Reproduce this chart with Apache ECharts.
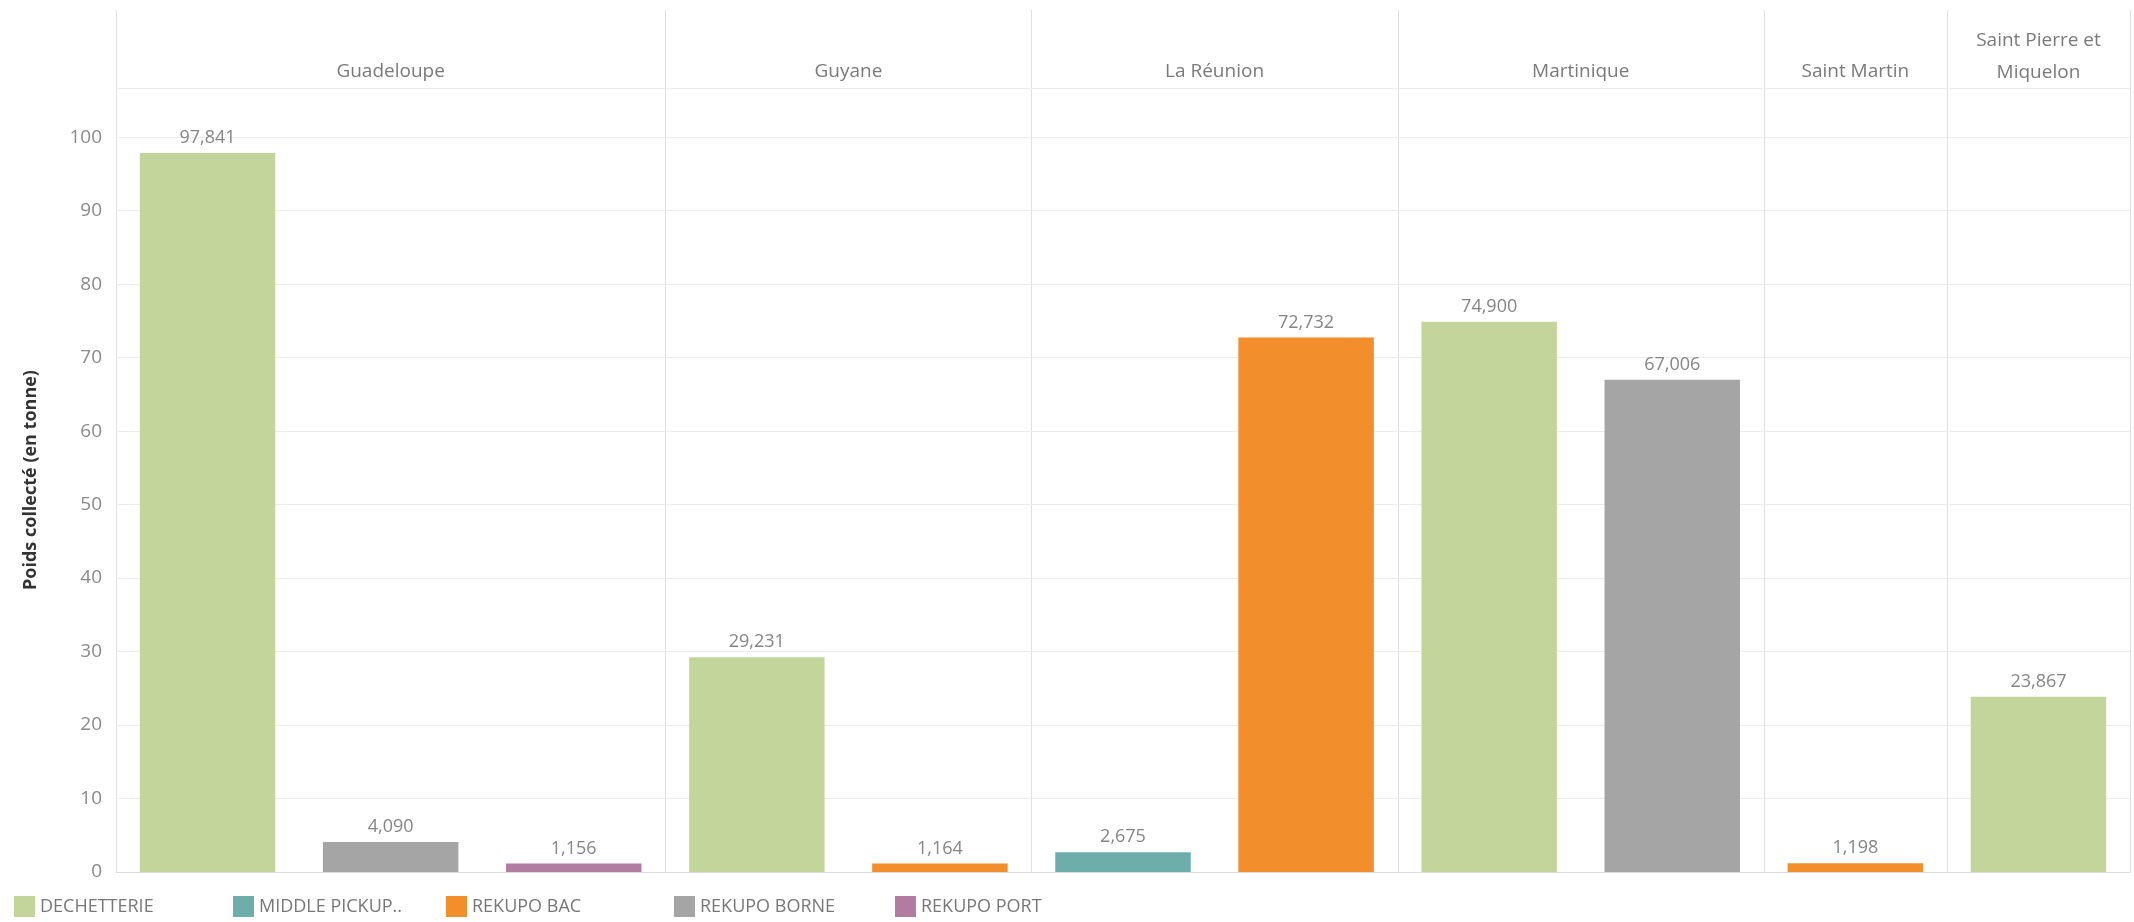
<!DOCTYPE html>
<html>
<head>
<meta charset="utf-8">
<script src="https://cdn.jsdelivr.net/npm/echarts@6/dist/echarts.min.js"></script>
<style>
html,body{margin:0;padding:0;background:#fff;}
#chart{width:2134px;height:922px;}
</style>
</head>
<body>
<div id="chart"></div>
<script>
// ---- data ----
const regions = ['Guadeloupe', 'Guyane', 'La Réunion', 'Martinique', 'Saint Martin', 'Saint Pierre et\nMiquelon'];
const types = ['DECHETTERIE', 'MIDDLE PICKUP..', 'REKUPO BAC', 'REKUPO BORNE', 'REKUPO PORT'];
const dechetterie  = [97.841, 29.231, null,   74.900, null,  23.867];
const middlePickup = [null,   null,   2.675,  null,   null,  null];
const rekupoBac    = [null,   1.164,  72.732, null,   1.198, null];
const rekupoBorne  = [4.090,  null,   null,   67.006, null,  null];
const rekupoPort   = [1.156,  null,   null,   null,   null,  null];
const yTicks = [0, 10, 20, 30, 40, 50, 60, 70, 80, 90, 100];

const typeValues = [dechetterie, middlePickup, rekupoBac, rekupoBorne, rekupoPort];
const colors = ['#c4d59b', '#6daeab', '#f28e2b', '#a5a5a5', '#b17ba2'];

// ---- layout ----
const W = 2134, H = 922;
const plotLeft = 116, plotRight = 2130, plotTop = 88, plotBottom = 872, headTop = 10;
const legendLefts = [14, 233, 446, 674, 895];
const cats = regions.map((r, i) => types.filter((t, k) => typeValues[k][i] != null));
const totalSlots = cats.reduce((s, c) => s + c.length, 0);
const slotW = (plotRight - plotLeft) / totalSlots;
const edges = [plotLeft];
cats.forEach(c => edges.push(edges[edges.length - 1] + c.length * slotW));

const FONT = 'Open Sans, Lato, sans-serif';
const fmt = v => Number(v).toFixed(3).replace('.', ',');

const grids = [], xAxes = [], yAxes = [], series = [], graphics = [];
regions.forEach((r, i) => {
  grids.push({left: edges[i], width: edges[i + 1] - edges[i], top: plotTop, bottom: H - plotBottom, containLabel: false});
  xAxes.push({
    type: 'category', gridIndex: i, data: cats[i],
    axisLine: {show: true, lineStyle: {color: '#dcdcdc', width: 1}},
    axisTick: {show: false}, axisLabel: {show: false}, splitLine: {show: false}
  });
  yAxes.push({
    type: 'value', gridIndex: i, min: 0, max: 106.7, interval: 10,
    name: i === 0 ? 'Poids collecté (en tonne)' : '',
    nameLocation: 'middle', nameGap: 76,
    nameTextStyle: {color: '#333', fontSize: 18, fontWeight: 'bold', fontFamily: FONT},
    axisLine: {show: false}, axisTick: {show: false},
    axisLabel: {show: i === 0, color: '#8a8a8a', fontSize: 19, fontFamily: FONT, margin: 14, showMaxLabel: false,
      formatter: v => yTicks.includes(v) ? String(v) : ''},
    splitLine: {show: true, lineStyle: {color: '#ececec', width: 1}}
  });
  types.forEach((t, k) => {
    if (typeValues[k][i] == null) return;
    series.push({
      type: 'bar', name: t, xAxisIndex: i, yAxisIndex: i, stack: 'p' + i,
      barCategoryGap: '26%',
      itemStyle: {color: colors[k]},
      data: cats[i].map(c => c === t ? typeValues[k][i] : '-'),
      label: {show: true, position: 'top', distance: 6, color: '#858585', fontSize: 18, fontFamily: FONT,
        formatter: p => fmt(p.value)},
      emphasis: {disabled: true}
    });
  });
  // header text
  graphics.push({
    type: 'text', x: (edges[i] + edges[i + 1]) / 2, y: r.includes('\n') ? 57 : 72,
    style: {text: r, fill: '#7a7a7a', font: '19px ' + FONT, textAlign: 'center', textVerticalAlign: 'middle', lineHeight: 32},
    silent: true
  });
});
// panel separators
edges.forEach(x => {
  graphics.push({type: 'line', shape: {x1: Math.round(x) + 0.5, y1: headTop, x2: Math.round(x) + 0.5, y2: plotBottom},
    style: {stroke: '#e0e0e0', lineWidth: 1}, silent: true, z: -1});
});
graphics.push({type: 'line', shape: {x1: plotLeft, y1: plotTop + 0.5, x2: plotRight, y2: plotTop + 0.5},
  style: {stroke: '#ececec', lineWidth: 1}, silent: true, z: -1});

const legends = types.map((t, k) => ({
  data: [t], left: legendLefts[k], top: 896, icon: 'rect', itemWidth: 21, itemHeight: 21,
  selectedMode: false, padding: 0,
  textStyle: {color: '#777', fontSize: 18, fontFamily: FONT}
}));

const chart = echarts.init(document.getElementById('chart'), null, {renderer: 'canvas'});
chart.setOption({
  animation: false,
  backgroundColor: '#fff',
  grid: grids, xAxis: xAxes, yAxis: yAxes, series: series,
  graphic: graphics,
  legend: legends
});
</script>
</body>
</html>
